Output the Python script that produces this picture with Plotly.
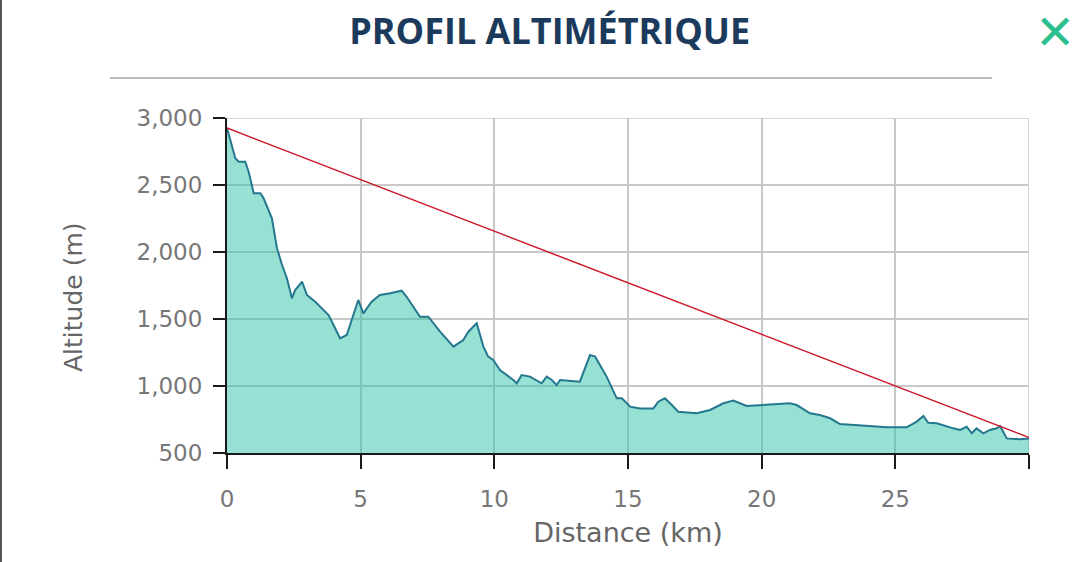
import plotly.graph_objects as go

# Elevation profile (distance in km, altitude in m)
distance_km = [0.0, 0.31, 0.44, 0.68, 0.81, 1.0, 1.25, 1.37, 1.68, 1.87, 2.06, 2.24, 2.43, 2.55,
               2.81, 2.99, 3.30, 3.80, 4.23, 4.48, 4.91, 5.10, 5.41, 5.72, 6.10, 6.53, 6.72,
               7.22, 7.53, 7.97, 8.47, 8.84, 9.03, 9.34, 9.59, 9.77, 9.96, 10.21, 10.71, 10.84,
               11.02, 11.33, 11.77, 11.96, 12.15, 12.33, 12.46, 12.83, 13.20, 13.58, 13.77,
               14.20, 14.58, 14.77, 15.08, 15.45, 15.95, 16.13, 16.38, 16.64, 16.88, 17.57,
               18.07, 18.57, 18.94, 19.44, 19.94, 20.31, 21.06, 21.31, 21.81, 22.18, 22.56,
               22.93, 23.43, 24.05, 24.68, 25.42, 25.80, 26.05, 26.23, 26.55, 26.92, 27.17,
               27.42, 27.67, 27.86, 28.04, 28.29, 28.54, 28.79, 28.92, 29.17, 29.66, 30.0]
altitude_m = [2925, 2699, 2674, 2674, 2599, 2438, 2438, 2401, 2251, 2028, 1903, 1804, 1654, 1716,
              1778, 1679, 1629, 1530, 1356, 1381, 1642, 1542, 1629, 1679, 1692, 1711, 1666,
              1517, 1517, 1405, 1294, 1343, 1405, 1468, 1294, 1219, 1194, 1119, 1045, 1020,
              1082, 1070, 1020, 1070, 1045, 1007, 1045, 1040, 1032, 1231, 1219,
              1070, 908, 908, 846, 833, 833, 883, 908, 858, 808, 796,
              821, 871, 891, 851, 858, 866, 871, 858, 796, 784, 759,
              716, 709, 701, 692, 692, 734, 776, 726, 722, 696, 684,
              672, 696, 647, 684, 647, 672, 684, 700, 609, 602, 609]

# Straight reference line (start to end)
line_km = [0.0, 30.2]
line_alt = [2925, 600]

x_ticks = [0, 5, 10, 15, 20, 25, 30]
x_tick_labels = ["0", "5", "10", "15", "20", "25", ""]
y_ticks = [500, 1000, 1500, 2000, 2500, 3000]
y_tick_labels = ["500", "1,000", "1,500", "2,000", "2,500", "3,000"]

fig = go.Figure()
fig.add_trace(go.Scatter(
    x=distance_km, y=altitude_m, mode="lines",
    line=dict(color="#23788f", width=2),
    fill="tozeroy", fillcolor="rgba(47,196,170,0.5)",
    hoverinfo="skip", showlegend=False,
))
fig.add_trace(go.Scatter(
    x=line_km, y=line_alt, mode="lines",
    line=dict(color="#cc1a2e", width=1.5),
    hoverinfo="skip", showlegend=False,
))

tick_font = dict(family="DejaVu Sans", size=23, color="#777777")
grid_col = "#c8c8c8"

fig.update_layout(
    width=1080, height=562,
    margin=dict(l=227, r=51, t=118, b=109),
    paper_bgcolor="white", plot_bgcolor="white",
    title=dict(text="<b>PROFIL ALTIMÉTRIQUE</b>", x=0.509, xanchor="center",
               y=1 - 31 / 562, yanchor="middle",
               font=dict(family="Open Sans", size=36, color="#1b3a5c")),
    xaxis=dict(
        range=[0, 30], tickmode="array", tickvals=x_ticks, ticktext=x_tick_labels,
        showline=True, linecolor="#1a1a1a", linewidth=2,
        ticks="outside", ticklen=14, tickwidth=2, tickcolor="#1a1a1a",
        showgrid=True, gridcolor=grid_col, gridwidth=1.5,
        zeroline=False, tickfont=tick_font, ticklabelstandoff=10,
        title=dict(text="Distance (km)",
                   font=dict(family="DejaVu Sans", size=27, color="#666666"), standoff=13),
        fixedrange=True,
    ),
    yaxis=dict(
        range=[500, 3000], tickmode="array", tickvals=y_ticks, ticktext=y_tick_labels,
        showline=True, linecolor="#1a1a1a", linewidth=2,
        ticks="outside", ticklen=12, tickwidth=2, tickcolor="#1a1a1a",
        showgrid=True, gridcolor=grid_col, gridwidth=1.5,
        zeroline=False, tickfont=tick_font, ticklabelstandoff=6,
        fixedrange=True,
    ),
    shapes=[
        dict(type="line", xref="paper", yref="paper",
             x0=(110 - 227) / 802, x1=(992 - 227) / 802,
             y0=(453 - 78) / 335, y1=(453 - 78) / 335,
             line=dict(color="#bdbdbd", width=2)),
        dict(type="line", xref="paper", yref="paper",
             x0=(1 - 227) / 802, x1=(1 - 227) / 802,
             y0=(453 - 562) / 335, y1=(453 - 0) / 335,
             line=dict(color="#555555", width=2)),
        # grid lines on the outer plot edges
        dict(type="line", xref="x", yref="paper", x0=x_ticks[-1], x1=x_ticks[-1],
             y0=0, y1=1, layer="below", line=dict(color=grid_col, width=1.5)),
        dict(type="line", xref="paper", yref="y", x0=0, x1=1,
             y0=y_ticks[-1], y1=y_ticks[-1], layer="below", line=dict(color=grid_col, width=1.5)),
    ],
    annotations=[
        dict(text="Altitude (m)", xref="paper", yref="paper",
             x=(73 - 227) / 802, y=(453 - 297) / 335, textangle=-90,
             xanchor="center", yanchor="middle", showarrow=False,
             font=dict(family="DejaVu Sans", size=25, color="#666666")),
        dict(text="✕", xref="paper", yref="paper",
             x=(1055 - 227) / 802, y=(453 - 32) / 335,
             xanchor="center", yanchor="middle", showarrow=False,
             font=dict(family="DejaVu Sans", size=48, color="#2bbf8f")),
    ],
)

fig.write_html("out.html", config={"displayModeBar": False},
               post_script="document.body.style.margin='0';")
